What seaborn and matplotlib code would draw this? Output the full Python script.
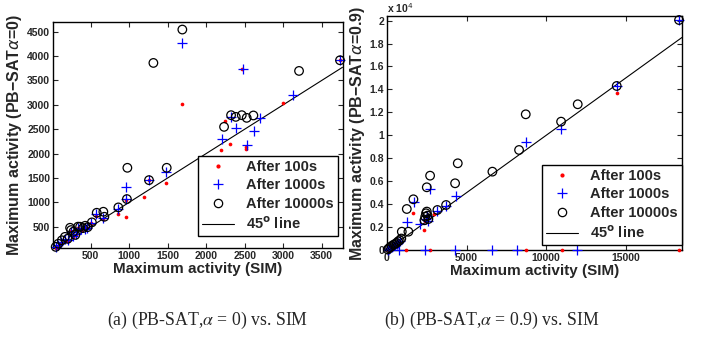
import numpy as np
import pandas as pd
import matplotlib
matplotlib.use("Agg")
import matplotlib.pyplot as plt
from matplotlib.ticker import FuncFormatter
from matplotlib.lines import Line2D
import seaborn as sns

# --- data: (a) PB-SAT alpha=0 vs SIM ---
a_red_x = [45, 80, 120, 160, 200, 240, 270, 310, 340, 380, 420, 450, 510, 573, 660, 851, 955, 963,
           1192, 1257, 1478, 1690, 2193, 2245, 2312, 2470, 2513, 2521, 2994, 3738]
a_red_y = [70, 110, 170, 220, 210, 420, 290, 330, 470, 440, 450, 470, 570, 720, 660, 750, 690, 1050,
           1113, 1455, 1394, 3020, 2070, 2665, 2187, 3745, 2138, 2085, 3040, 3915]
a_blue_x = [45, 80, 120, 160, 200, 240, 270, 310, 340, 380, 420, 450, 510, 573, 660, 850, 955, 963,
            1257, 1478, 1690, 2202, 2323, 2384, 2474, 2526, 2621, 2699, 3124, 3738]
a_blue_y = [75, 120, 190, 240, 230, 400, 300, 340, 480, 450, 460, 480, 580, 755, 680, 860, 1318, 1066,
            1455, 1613, 4271, 2296, 2753, 2515, 3745, 2173, 2467, 2733, 3198, 3915]
a_circ_x = [45, 80, 125, 165, 200, 232, 245, 275, 300, 335, 362, 400, 428, 460, 515, 578, 664, 677,
            859, 970, 976, 1257, 1314, 1487, 1690, 2232, 2323, 2384, 2462, 2526, 2613, 3206, 3738]
a_circ_y = [85, 150, 220, 290, 250, 477, 430, 396, 330, 500, 498, 470, 518, 490, 588, 785, 806, 703,
            895, 1066, 1708, 1455, 3860, 1708, 4545, 2548, 2788, 2753, 2788, 2733, 2782, 3696, 3915]

# --- data: (b) PB-SAT alpha=0.9 vs SIM ---
b_red_x = [50, 120, 200, 300, 400, 500, 600, 700, 1180, 1658, 2349, 2400, 2707, 2977,
           8717, 10977, 14430, 18344]
b_red_y = [30, 100, 180, 260, 350, 420, 520, 620, 0, 3200, 1744, 2500, 0, 3139,
           0, 0, 13700, 0]
b_blue_x = [50, 120, 200, 300, 400, 500, 600, 700, 800, 780, 1243, 1721, 2060, 2393, 2450, 2500, 2550,
            2707, 3127, 3693, 4277, 4340, 6600, 8190, 8715, 10935, 11920, 14430, 18344]
b_blue_y = [40, 120, 200, 280, 380, 450, 560, 650, 800, 0, 2468, 4212, 2230, 0, 2700, 3000, 2500,
            5300, 3427, 3863, 0, 4709, 0, 0, 9380, 10530, 0, 14300, 20050]
b_circ_x = [50, 120, 200, 300, 400, 500, 600, 700, 800, 900, 930, 1243, 1344, 1658, 2350, 2400, 2450,
            2500, 2550, 2600, 2499, 2707, 3166, 3712, 4277, 4445, 6620, 8295, 8715, 10935, 11980,
            14430, 18344]
b_circ_y = [50, 150, 250, 350, 450, 520, 620, 750, 850, 1000, 1596, 3575, 1596, 4421, 2600, 2900, 3200,
            3350, 3000, 2700, 5467, 6480, 3488, 3924, 5816, 7560, 6830, 8720, 11830, 11190, 12705,
            14300, 20050]

labels = ["After 100s", "After 1000s", "After 10000s", "45$^{\\mathbf{o}}$ line"]

sns.set_style("ticks")
plt.rcParams["font.family"] = ["Liberation Sans", "DejaVu Sans"]
plt.rcParams["mathtext.fontset"] = "dejavusans"

fig = plt.figure(figsize=(7.01, 3.39), dpi=100)
W, H = 701, 339
ax1 = fig.add_axes([53 / W, 1 - 248 / H, 290 / W, 226 / H])
ax2 = fig.add_axes([387 / W, 1 - 250 / H, 295 / W, 234 / H])


def draw(ax, rx, ry, bx, by, cx, cy, lo, hi):
    sns.scatterplot(x=rx, y=ry, ax=ax, color="red", marker="o", s=7, linewidth=0, clip_on=False, zorder=3)
    sns.scatterplot(x=bx, y=by, ax=ax, color="blue", marker="+", s=55, linewidth=0.9, clip_on=False, zorder=4)
    sns.scatterplot(x=cx, y=cy, ax=ax, marker="o", s=38, facecolor="none", edgecolor="black",
                    linewidth=0.9, clip_on=False, zorder=5)
    sns.lineplot(x=[lo, hi], y=[lo, hi], ax=ax, color="black", linewidth=0.8, zorder=2)
    for sp in ax.spines.values():
        sp.set_visible(True)
        sp.set_linewidth(1.0)
        sp.set_color("black")
    ax.tick_params(direction="in", top=True, right=True, length=3.5, width=0.8,
                   labelsize=7.5, pad=2)
    for t in ax.get_xticklabels() + ax.get_yticklabels():
        t.set_fontweight("bold")
    ax.set_xlabel("Maximum activity (SIM)", fontsize=11, fontweight="bold", labelpad=1)


draw(ax1, a_red_x, a_red_y, a_blue_x, a_blue_y, a_circ_x, a_circ_y, 45, 3770)
ax1.set_xlim(10, 3777)
ax1.set_ylim(62, 4700)
ax1.set_xticks([500, 1000, 1500, 2000, 2500, 3000, 3500])
ax1.set_yticks([500, 1000, 1500, 2000, 2500, 3000, 3500, 4000, 4500])
ax1.set_ylabel("Maximum activity (PB\u2212SAT$\\alpha$=0)", fontsize=11.5, fontweight="bold", labelpad=2)

draw(ax2, b_red_x, b_red_y, b_blue_x, b_blue_y, b_circ_x, b_circ_y, 0, 18530)
ax2.set_xlim(0, 18530)
ax2.set_ylim(0, 20400)
ax2.set_xticks([0, 5000, 10000, 15000])
ax2.set_yticks(np.arange(0, 20001, 2000))
ax2.yaxis.set_major_formatter(FuncFormatter(lambda v, p: f"{v / 1e4:g}"))
for t in ax2.get_yticklabels():
    t.set_fontweight("bold")
ax2.set_ylabel("Maximum activity (PB\u2212SAT$\\alpha$=0.9)", fontsize=11.5, fontweight="bold", labelpad=2)
ax2.text(0.0, 1.005, "x 10$^{4}$", transform=ax2.transAxes, ha="left", va="bottom",
         fontsize=7.5, fontweight="bold")

handles = [
    Line2D([], [], color="red", marker="o", markersize=2, linestyle="none"),
    Line2D([], [], color="blue", marker="+", markersize=7, markeredgewidth=0.9, linestyle="none"),
    Line2D([], [], color="black", marker="o", markersize=6, markerfacecolor="none",
           markeredgewidth=0.9, linestyle="none"),
    Line2D([], [], color="black", linewidth=0.8),
]
for ax, anchor in [(ax1, (0.983, 0.053)), (ax2, (1.0, 0.021))]:
    leg = ax.legend(handles, labels, loc="lower right", bbox_to_anchor=anchor, fancybox=False,
                    edgecolor="black", framealpha=1, borderaxespad=0,
                    prop={"size": 10.5, "weight": "bold"}, handlelength=2.2,
                    labelspacing=0.3, borderpad=0.3, handletextpad=0.8)
    leg.get_frame().set_linewidth(1.0)

plt.rcParams["mathtext.fontset"] = "stix"
fig.text(208 / W, 1 - 320 / H, "(a) (PB-SAT,$\\alpha$ = 0) vs. SIM", ha="center", va="center",
         family="Liberation Serif", fontsize=12.8, fontweight="normal")
fig.text(492 / W, 1 - 320 / H, "(b) (PB-SAT,$\\alpha$ = 0.9) vs. SIM", ha="center", va="center",
         family="Liberation Serif", fontsize=12.8, fontweight="normal")

fig.savefig("out.png", dpi=100)
